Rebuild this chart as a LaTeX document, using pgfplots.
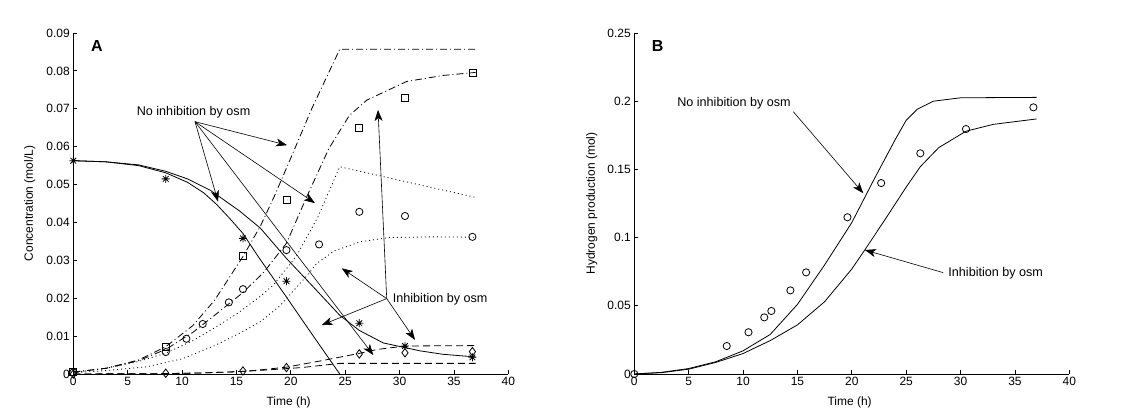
\documentclass[border=0pt]{standalone}
\usepackage{pgfplots}
\pgfplotsset{compat=1.18}
\usepackage{fontspec}
\setmainfont{Liberation Sans}
\usetikzlibrary{arrows.meta}

\pgfdeclareplotmark{mstar}{%
  \pgfpathmoveto{\pgfpoint{-\pgfplotmarksize}{0pt}}\pgfpathlineto{\pgfpoint{\pgfplotmarksize}{0pt}}%
  \pgfpathmoveto{\pgfpoint{0pt}{-\pgfplotmarksize}}\pgfpathlineto{\pgfpoint{0pt}{\pgfplotmarksize}}%
  \pgfpathmoveto{\pgfpoint{-.707\pgfplotmarksize}{-.707\pgfplotmarksize}}\pgfpathlineto{\pgfpoint{.707\pgfplotmarksize}{.707\pgfplotmarksize}}%
  \pgfpathmoveto{\pgfpoint{-.707\pgfplotmarksize}{.707\pgfplotmarksize}}\pgfpathlineto{\pgfpoint{.707\pgfplotmarksize}{-.707\pgfplotmarksize}}%
  \pgfusepathqstroke}

\newcommand{\lab}{\fontsize{12}{14}\selectfont}
\newcommand{\ann}{\fontsize{12.6}{15}\selectfont}

\tikzset{arr/.style={line width=0.6pt, -{Stealth[length=11pt,width=8pt,inset=3pt]}}}

\pgfplotsset{
  base/.style={
    scale only axis, width=435pt, height=341pt,
    xmin=0, xmax=40, ymin=0,
    axis x line=bottom, axis y line=left,
    axis line style={-, line width=0.8pt, black},
    tick align=inside, major tick length=4pt,
    tick style={line width=0.8pt, black},
    xtick={0,5,10,15,20,25,30,35,40},
    ticklabel style={font=\lab},
    /pgf/number format/assume math mode=true,
    scaled y ticks=false,
    yticklabel style={/pgf/number format/fixed, /pgf/number format/precision=2},
    clip=false,
  },
  curve/.style={black, line width=0.8pt, mark=none},
  dd/.style={curve, dash pattern=on 7pt off 3pt on 1pt off 3pt},
  dt/.style={curve, dash pattern=on 1pt off 3pt},
  ds/.style={curve, dash pattern=on 7pt off 4pt},
  pts/.style={only marks, black, line width=0.8pt, mark options={solid, fill=none}},
}

\begin{document}
\begin{tikzpicture}
\useasboundingbox (0,0) rectangle (1122pt,420pt);

% ---------------- Panel A ----------------
\begin{axis}[base, at={(73.3pt,46pt)}, anchor=south west,
  ymax=0.09, ytick={0,0.01,0.02,0.03,0.04,0.05,0.06,0.07,0.08,0.09},
  xlabel={Time (h)}, ylabel={Concentration (mol/L)},
  every axis x label/.style={at={(axis description cs:0.495,-0.083)}, anchor=center, font=\lab},
  every axis y label/.style={at={(axis description cs:-0.1,0.5)}, rotate=90, anchor=center, font=\lab},
]
% substrate, no inhibition
\addplot[curve] coordinates {(0,0.0563) (3,0.0560) (6,0.0550) (8.5,0.0531) (10.5,0.0506) (12,0.0478) (13.2,0.0447) (14.4,0.0410) (15.6,0.0371) (17,0.0310) (19.6,0.0203) (22,0.0103) (24.5,0)};
% substrate, inhibition
\addplot[curve] coordinates {(0,0.0563) (3,0.0560) (6,0.0552) (8.5,0.0535) (10.5,0.0515) (12.6,0.0485) (15.3,0.0430) (17.2,0.0385) (19.6,0.0305) (22,0.0232) (24.5,0.0155) (26.3,0.0115) (28.5,0.0082) (31.9,0.0061) (34,0.0052) (37,0.0045)};
% product 1, no inhibition
\addplot[dd] coordinates {(0,0.0005) (3,0.0015) (6,0.0037) (8.5,0.0072) (11,0.0128) (13,0.0195) (15.6,0.0310) (17.2,0.0390) (18.5,0.0470) (20,0.0570) (22,0.0705) (24.5,0.0857) (37.1,0.0857)};
% product 1, inhibition
\addplot[dd] coordinates {(0,0.0005) (3,0.0015) (6,0.0035) (8.5,0.0065) (11,0.0110) (13,0.0155) (15.6,0.0215) (17.5,0.0268) (19.6,0.0345) (21.5,0.0470) (23.5,0.0595) (25.4,0.0683) (27,0.0723) (30.65,0.0772) (34,0.0788) (37,0.0796)};
% product 2, no inhibition
\addplot[dt] coordinates {(0,0.0004) (3,0.0015) (6,0.0033) (8.5,0.0055) (11,0.0088) (13,0.0122) (15,0.0158) (17.2,0.0205) (18.4,0.0235) (20.5,0.0310) (22.5,0.0415) (24.5,0.0547) (37,0.0466)};
% product 2, inhibition
\addplot[dt] coordinates {(0,0.0003) (3,0.0009) (6.75,0.0019) (10,0.0040) (13,0.0075) (15.6,0.0112) (17.2,0.0138) (19,0.0180) (21.5,0.0260) (22.4,0.0292) (24,0.0325) (26.4,0.0349) (29,0.0360) (33,0.0362) (37,0.0361)};
% product 3, inhibition
\addplot[ds] coordinates {(0,0) (5,0.00005) (8.5,0.0001) (12,0.0003) (15,0.0006) (16.2,0.0008) (19.6,0.0018) (23,0.0036) (26.4,0.0055) (28,0.0065) (29.7,0.0071) (31,0.0074) (37,0.0075)};
% product 3, no inhibition
\addplot[ds] coordinates {(0,0) (8.5,0.0001) (12,0.0003) (15,0.0006) (18,0.0011) (21,0.0017) (24.5,0.0028) (37,0.0028)};

% data
\addplot[pts, mark=mstar, mark size=4pt] coordinates {(0,0.0563) (8.5,0.0515) (15.6,0.0358) (19.6,0.0245) (26.3,0.0134) (30.5,0.0074) (36.7,0.0044)};
\addplot[pts, mark=square, mark size=3.5pt] coordinates {(0,0.0006) (8.5,0.0072) (15.6,0.0311) (19.6,0.0459) (26.3,0.0649) (30.5,0.0730) (36.7,0.0796)};
\addplot[pts, mark=o, mark size=3.6pt] coordinates {(0,0.0004) (8.5,0.0058) (10.4,0.0093) (11.9,0.0132) (14.3,0.0189) (15.6,0.0224) (19.6,0.0327) (22.6,0.0342) (26.3,0.0428) (30.5,0.0417) (36.7,0.0362)};
\addplot[pts, mark=diamond, mark size=4.2pt] coordinates {(0,0) (8.5,0.0002) (15.6,0.0008) (19.6,0.0017) (26.3,0.0053) (30.5,0.0056) (36.7,0.0059)};

% annotations
\node[font=\bfseries\fontsize{16}{18}\selectfont] at (axis cs:2.16,0.0866) {A};
\node[font=\ann] at (axis cs:11.06,0.0691) {No inhibition by osm};
\draw[arr] (axis cs:11.19,0.0666) -- (axis cs:19.65,0.0604);
\draw[arr] (axis cs:11.19,0.0666) -- (axis cs:22.22,0.0451);
\draw[arr] (axis cs:11.19,0.0666) -- (axis cs:13.31,0.0455);
\draw[arr] (axis cs:11.19,0.0666) -- (axis cs:27.59,0.0050);
\node[font=\ann, anchor=west, inner sep=0pt] at (axis cs:29.37,0.0197) {Inhibition by osm};
\draw[arr] (axis cs:28.82,0.0199) -- (axis cs:28.02,0.0697);
\draw[arr] (axis cs:28.82,0.0199) -- (axis cs:24.68,0.0279);
\draw[arr] (axis cs:28.82,0.0199) -- (axis cs:22.84,0.0129);
\draw[arr] (axis cs:28.82,0.0199) -- (axis cs:31.42,0.0090);
\end{axis}

% ---------------- Panel B ----------------
\begin{axis}[base, at={(634.3pt,46pt)}, anchor=south west,
  ymax=0.25, ytick={0,0.05,0.1,0.15,0.2,0.25},
  xlabel={Time (h)}, ylabel={Hydrogen production (mol)},
  every axis x label/.style={at={(axis description cs:0.495,-0.083)}, anchor=center, font=\lab},
  every axis y label/.style={at={(axis description cs:-0.098,0.5)}, rotate=90, anchor=center, font=\lab},
]
\addplot[curve] coordinates {(0,0) (2.5,0.0012) (5,0.0040) (7.5,0.0090) (10,0.0170) (12.5,0.0290) (15,0.0510) (17.5,0.0800) (20,0.1110) (22,0.1420) (24,0.1720) (25,0.1860) (26,0.1940) (27.5,0.2000) (30,0.2025) (37,0.2028)};
\addplot[curve] coordinates {(0,0) (2.5,0.0010) (5,0.0035) (7.5,0.0085) (10,0.0150) (12.5,0.0245) (15,0.0360) (17.5,0.0530) (20,0.0770) (21.2,0.0910) (23.2,0.1150) (25,0.1370) (26.3,0.1520) (28,0.1660) (30.5,0.1780) (33,0.1830) (37,0.1870)};
\addplot[pts, mark=o, mark size=3.6pt] coordinates {(0,0) (8.5,0.0205) (10.5,0.0306) (11.95,0.0415) (12.6,0.0462) (14.35,0.0613) (15.8,0.0745) (19.6,0.1149) (22.7,0.1400) (26.3,0.1618) (30.5,0.1796) (36.7,0.1955)};

\node[font=\bfseries\fontsize{16}{18}\selectfont] at (axis cs:2.14,0.2407) {B};
\node[font=\ann] at (axis cs:9.17,0.1982) {No inhibition by osm};
\draw[arr] (axis cs:14.62,0.1923) -- (axis cs:21.06,0.1325);
\node[font=\ann, anchor=west, inner sep=0pt] at (axis cs:28.87,0.0738) {Inhibition by osm};
\draw[arr] (axis cs:28.41,0.0743) -- (axis cs:21.2,0.0909);
\end{axis}
\end{tikzpicture}
\end{document}
